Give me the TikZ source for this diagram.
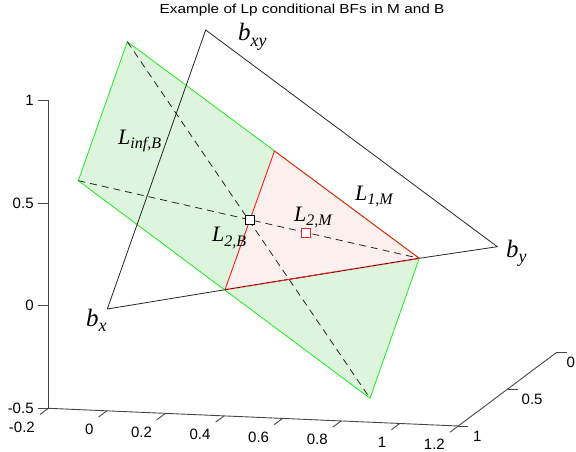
\documentclass[tikz,border=0pt]{standalone}
\usepackage{fontspec}
\setmainfont{Liberation Serif}
\newfontfamily\axfont{Liberation Sans}
\newfontfamily\labfont{Liberation Serif}
\usetikzlibrary{calc}
\definecolor{gline}{RGB}{30,235,30}
\definecolor{gfill}{RGB}{220,245,220}
\definecolor{rline}{RGB}{255,30,30}
\definecolor{rfill}{RGB}{252,240,238}
\definecolor{axcol}{RGB}{70,70,70}
\newcommand\BLab[2]{{\labfont\itshape\fontsize{25}{25}\selectfont #1\raisebox{-5.5pt}{\fontsize{18}{18}\selectfont #2}}}
\newcommand\LLab[2]{{\labfont\itshape\fontsize{22}{22}\selectfont #1\raisebox{-4.5pt}{\fontsize{16}{16}\selectfont #2}}}
\begin{document}
\begin{tikzpicture}[x=1pt,y=-1pt,
  axisln/.style={draw=axcol,line width=0.9pt},
  ticklab/.style={font=\axfont\fontsize{15}{15}\selectfont,inner sep=0pt},
  triln/.style={draw=black!85,line width=0.8pt},
  gedge/.style={draw=gline,line width=0.8pt},
  redge/.style={draw=rline,line width=0.9pt},
  dashln/.style={draw=black!85,line width=0.8pt,dash pattern=on 7pt off 5pt},
  mathlab/.style={inner sep=0pt,anchor=base west},
  marker/.style={fill=white,minimum size=9pt,inner sep=0pt,line width=0.8pt}
]
\useasboundingbox (0,0) rectangle (576,452);
% points
\coordinate (G1) at (127.3,41.7);
\coordinate (G2) at (78.3,180.7);
\coordinate (G3) at (370,398.3);
\coordinate (G4) at (419.3,258.3);
\coordinate (R1) at (274.5,151);
\coordinate (R3) at (225,289.7);
\coordinate (Bxy) at (205.7,30);
\coordinate (By) at (497.3,246.7);
\coordinate (Bx) at (107.3,309);
% planes
\fill[gfill] (G1) -- (G4) -- (G3) -- (G2) -- cycle;
\fill[rfill] (R1) -- (G4) -- (R3) -- cycle;
\draw[gedge] (G1) -- (G4) -- (G3) -- (G2) -- cycle;
\draw[redge] (R3) -- (R1) -- (G4);
% black triangle
\draw[triln] (Bx) -- (Bxy) -- (By) -- (G4);
\draw[triln] (Bx) -- (R3);
% dashed lines
\draw[dashln] (G2) -- (G4);
\draw[dashln] (G1) -- (G3);
% red bottom edge with black dashes
\draw[redge,line width=1.2pt] (R3) -- (G4);
\draw[black!85,line width=0.7pt,dash pattern=on 3pt off 3pt] (R3) -- (G4);
% markers
\node[marker,draw=black] (mB) at (249.5,220) {};
\node[marker,draw=rline] (mM) at (305.7,232.7) {};
% labels
\node[mathlab] (lbxy) at (238,40.7) {\BLab{b}{xy}};
\node[mathlab] (lby) at (506,257.3) {\BLab{b}{y}};
\node[mathlab] (lbx) at (86,326) {\BLab{b}{x}};
\node[mathlab] (lLinf) at (118,144) {\LLab{L}{inf,B}};
\node[mathlab] (lL2B) at (212,241.7) {\LLab{L}{2,B}};
\node[mathlab] (lL2M) at (294,221) {\LLab{L}{2,M}};
\node[mathlab] (lL1M) at (355,200) {\LLab{L}{1,M}};
% title
\node[font=\axfont\fontsize{13}{13}\selectfont,inner sep=0pt] (title) at (302,10) {\scalebox{1.18}[1]{Example of Lp conditional BFs in M and B}};
% vertical axis
\coordinate (A1) at (48.5,100.7);
\coordinate (A0) at (48.5,408.3);
\draw[axisln] (A1) -- (A0);
\foreach \yy/\lab in {100.7/1,203.2/0.5,305.7/0,408.3/-0.5}{
  \draw[axisln] (38,\yy) -- (48.5,\yy);
  \node[ticklab,anchor=east] at (33.8,\yy) {\lab};
}
% bottom axis
\coordinate (X7) at (458.3,426);
\draw[axisln] (48.3,408.3) -- (X7);
\foreach \k/\lab in {0/-0.2,1/0,2/0.2,3/0.4,4/0.6,5/0.8,6/1,7/1.2}{
  \draw[axisln] (48.3+58.57*\k,408.3+2.53*\k) -- ++(-8.3,6.2);
  \node[ticklab,anchor=east] at (48.3+58.57*\k-13.3,408.3+2.53*\k+18.7) {\lab};
}
% right axis
\coordinate (Z0) at (556.7,352.3);
\draw[axisln] (X7) -- (Z0);
\draw[axisln] (X7) -- ++(10,0);
\draw[axisln] (507.5,389.2) -- ++(10,0);
\draw[axisln] (Z0) -- ++(10,0);
\node[ticklab,anchor=west] at (473,436) {1};
\node[ticklab,anchor=west] at (521.5,399.2) {0.5};
\node[ticklab,anchor=west] at (566.5,362.3) {0};
\end{tikzpicture}
\end{document}
